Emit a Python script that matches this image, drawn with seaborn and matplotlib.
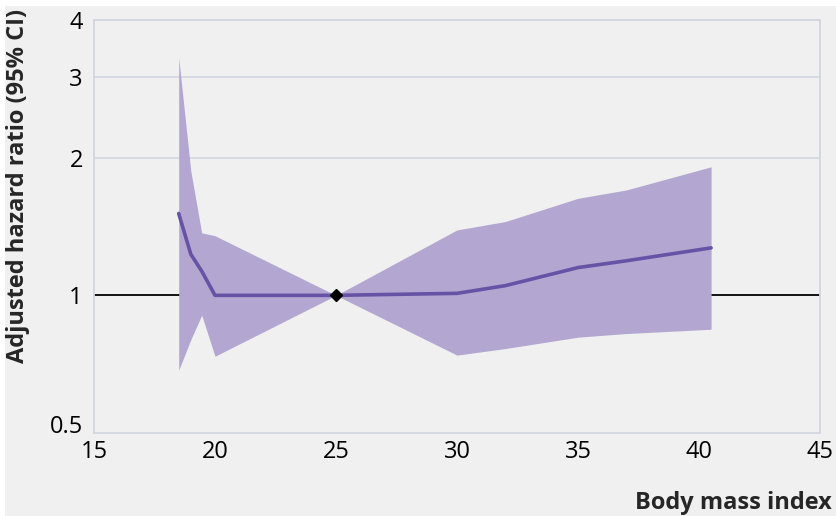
import matplotlib
matplotlib.use("Agg")
import matplotlib.pyplot as plt
import matplotlib.ticker as mticker
from matplotlib.patches import Rectangle
import seaborn as sns
import pandas as pd

# ---- data ----
bmi = [18.5, 19.0, 19.45, 20.0, 25.0, 30.0, 32.0, 35.0, 37.0, 40.5]
hr_mean = [1.51, 1.23, 1.13, 1.0, 1.0, 1.01, 1.05, 1.15, 1.19, 1.27]
hr_upper = [3.31, 1.87, 1.37, 1.35, 1.0, 1.39, 1.45, 1.63, 1.70, 1.91]
hr_lower = [0.686, 0.80, 0.905, 0.736, 1.0, 0.74, 0.765, 0.81, 0.825, 0.843]
ref_bmi = [25]
ref_hr = [1.0]
x_ticks = [15, 20, 25, 30, 35, 40, 45]
y_ticks = [0.5, 1, 2, 3, 4]
y_tick_labels = ["0.5", "1", "2", "3", "4"]

BG = "#f0f0f0"
GRID = "#d3d6dd"
FILL = "#b3a7d1"
LINE = "#6653a6"

sns.set_theme(style="white")
plt.rcParams["font.family"] = ["Open Sans", "DejaVu Sans"]

fig = plt.figure(figsize=(8.37, 5.16), dpi=100, facecolor="white")
fig.patches.append(Rectangle((5 / 837, 0), 1 - 5 / 837, 1 - 6 / 516,
                             transform=fig.transFigure, facecolor=BG,
                             edgecolor="none", zorder=-10))
ax = fig.add_axes([94 / 837, 1 - 433 / 516, (820 - 94) / 837, (433 - 20) / 516])
ax.set_facecolor(BG)

df = pd.DataFrame({"bmi": bmi, "hr": hr_mean, "lo": hr_lower, "hi": hr_upper})

ax.set_yscale("log")
ax.set_xlim(15, 45)
ax.set_ylim(0.5, 4)

for yv in [2, 3, 4]:
    ax.axhline(yv, color=GRID, lw=1.2, zorder=0)
ax.axhline(1, color="black", lw=1.3, zorder=1)

ax.fill_between(df["bmi"], df["lo"], df["hi"], color=FILL, lw=0, zorder=2)
sns.lineplot(data=df, x="bmi", y="hr", ax=ax, color=LINE, lw=2.6,
             zorder=3, legend=False)
ax.plot(ref_bmi, ref_hr, marker="D", color="black", ms=6, ls="none", zorder=4)

ax.set_xticks(x_ticks)
ax.set_yticks(y_ticks)
ax.yaxis.set_major_formatter(mticker.FixedFormatter(y_tick_labels))
ax.yaxis.set_minor_locator(mticker.NullLocator())
ax.tick_params(axis="x", direction="in", length=7, width=1.2, color=GRID,
               labelsize=17, pad=5, labelcolor="black")
ax.tick_params(axis="y", length=0, labelsize=17, pad=8, labelcolor="black")
ax.set_xlabel("")
ax.set_ylabel("")
ax.get_yticklabels()[0].set_va("baseline")

for s in ax.spines.values():
    s.set_color(GRID)
    s.set_linewidth(1.3)

fig.text(18 / 837, 1 - 186 / 516, "Adjusted hazard ratio (95% CI)", rotation=90,
         ha="center", va="center", fontsize=17, fontweight="bold")
fig.text(832 / 837, 1 - 503 / 516, "Body mass index", ha="right",
         va="center", fontsize=17, fontweight="bold")

fig.savefig("out.png", dpi=100, facecolor="white")
